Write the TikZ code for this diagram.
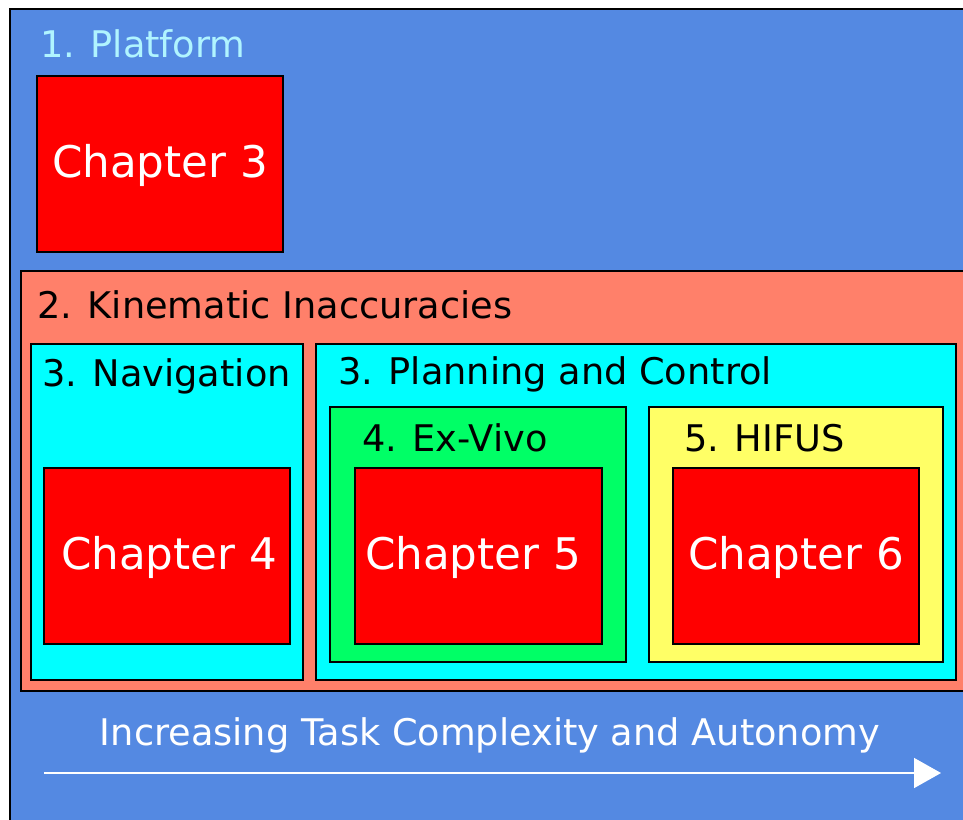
\documentclass[tikz,border=0pt]{standalone}
\usepackage{fontspec}
\setmainfont{DejaVu Sans}
\usetikzlibrary{arrows.meta}
\definecolor{bgblue}{RGB}{84,137,226}
\definecolor{salmonbox}{RGB}{255,128,106}
\definecolor{cyanbox}{RGB}{0,255,255}
\definecolor{greenbox}{RGB}{0,255,102}
\definecolor{yellowbox}{RGB}{255,255,102}
\definecolor{redbox}{RGB}{255,0,0}
\definecolor{palecyan}{RGB}{176,244,255}
\tikzset{
  area/.style={draw=black, line width=1.5pt, anchor=north west, inner sep=0pt, outer sep=0pt},
  chapter/.style={area, fill=redbox, minimum width=246pt, minimum height=176pt},
  chaptext/.style={text=white, font=\fontsize{43.6}{48}\selectfont, anchor=base, inner sep=0pt},
  label/.style={text=black, font=\fontsize{36.7}{40}\selectfont, anchor=base west, inner sep=0pt},
}
\begin{document}
\begin{tikzpicture}[x=1pt,y=-1pt]
  \clip (0,0) rectangle (963,819);
  \fill[white] (0,0) rectangle (963,819);

  % outer frame
  \node[area, fill=bgblue, line width=2pt, minimum width=970pt, minimum height=820pt] (platform) at (10,9) {};
  \node[label, text=palecyan] (platformlbl) at (40,57) {1. Platform};
  \node[chapter] (ch3box) at (37,76) {};
  \node[chaptext] (ch3) at (160,177) {Chapter 3};

  % kinematic inaccuracies
  \node[area, fill=salmonbox, minimum width=960pt, minimum height=420pt] (kin) at (21,271) {};
  \node[label] (kinlbl) at (37,318) {2. Kinematic Inaccuracies};

  % navigation
  \node[area, fill=cyanbox, minimum width=272pt, minimum height=336pt] (nav) at (31,344) {};
  \node[label] (navlbl) at (42,386) {3. Navigation};
  \node[chapter] (ch4box) at (44,468) {};
  \node[chaptext] (ch4) at (169,569) {Chapter 4};

  % planning and control
  \node[area, fill=cyanbox, minimum width=640pt, minimum height=336pt] (plan) at (316,344) {};
  \node[label] (planlbl) at (338,384) {3. Planning and Control};

  \node[area, fill=greenbox, minimum width=296pt, minimum height=255pt] (exvivo) at (330,407) {};
  \node[label] (exvivolbl) at (362,451) {4. Ex-Vivo};
  \node[chapter, minimum width=247pt] (ch5box) at (355,468) {};
  \node[chaptext] (ch5) at (473,569) {Chapter 5};

  \node[area, fill=yellowbox, minimum width=294pt, minimum height=255pt] (hifus) at (649,407) {};
  \node[label] (hifuslbl) at (684,451) {5. HIFUS};
  \node[chapter] (ch6box) at (673,468) {};
  \node[chaptext] (ch6) at (796,569) {Chapter 6};

  % complexity axis
  \node[label, text=white, anchor=base] (axislbl) at (490,745) {Increasing Task Complexity and Autonomy};
  \coordinate (axisstart) at (44,773);
  \coordinate (axisend) at (941,773);
  \draw[white, line width=1.5pt, -{Triangle[length=27pt,width=30pt]}] (axisstart) -- (axisend);
\end{tikzpicture}
\end{document}
